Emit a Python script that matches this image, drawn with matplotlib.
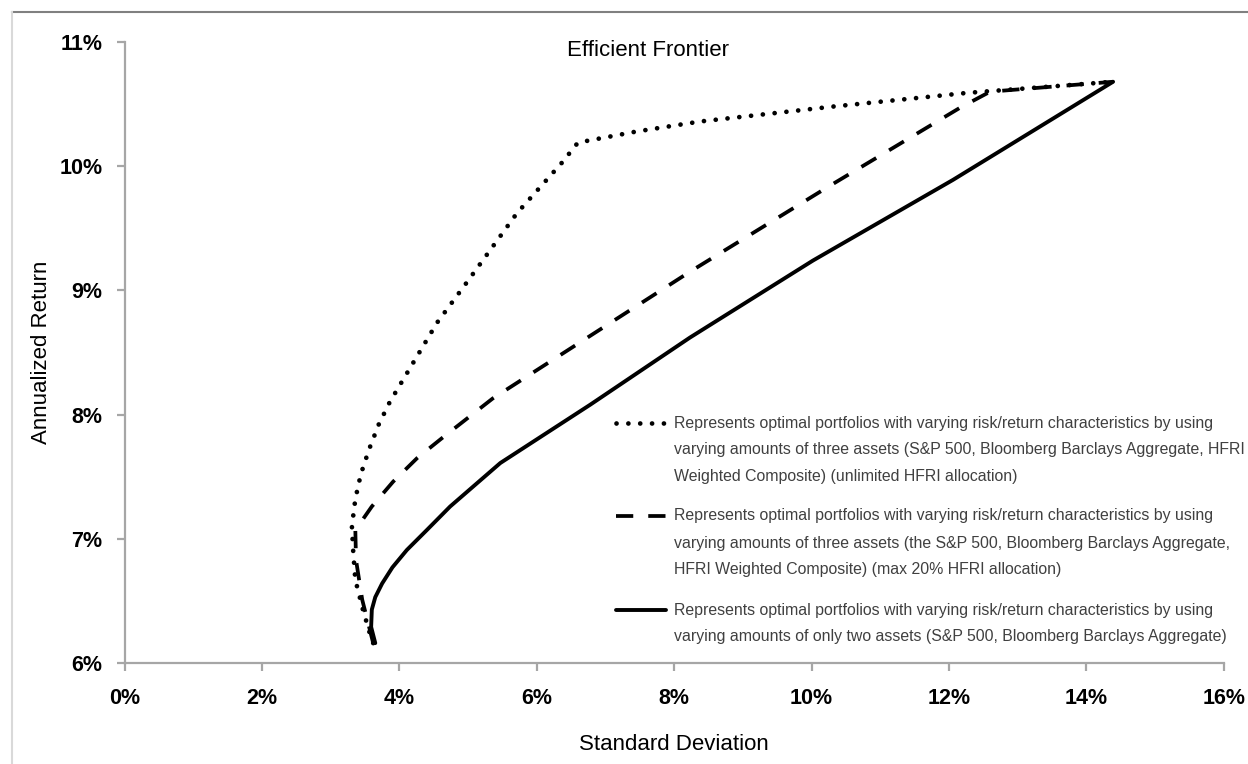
import matplotlib.pyplot as plt
from matplotlib.lines import Line2D
from matplotlib.ticker import FuncFormatter, MultipleLocator

# standard deviation (%) / annualized return (%)
unlimited_sd = [3.62, 3.57, 3.47, 3.36, 3.33, 3.31, 3.36, 3.44, 3.56, 3.70, 3.86,
                4.55, 4.99, 5.71, 6.37, 6.60, 7.46, 8.38, 10.31, 12.26, 14.39]
unlimited_ret = [6.16, 6.24, 6.43, 6.67, 6.89, 7.10, 7.32, 7.52, 7.72, 7.92, 8.10,
                 8.74, 9.07, 9.62, 10.03, 10.19, 10.28, 10.36, 10.48, 10.59, 10.68]

max20_sd = [3.62, 3.46, 3.37, 3.36, 3.60, 3.91, 4.26, 4.62, 4.99, 5.36,
            8.23, 10.23, 12.16, 12.60, 14.39]
max20_ret = [6.16, 6.51, 6.83, 7.07, 7.26, 7.46, 7.65, 7.81, 7.97, 8.13,
             9.15, 9.83, 10.47, 10.60, 10.68]

two_asset_sd = [3.65, 3.59, 3.60, 3.65, 3.75, 3.90, 4.11, 4.40, 4.74, 5.47,
                6.78, 8.23, 10.02, 12.06, 14.39]
two_asset_ret = [6.16, 6.29, 6.43, 6.53, 6.64, 6.77, 6.91, 7.07, 7.26, 7.61,
                 8.08, 8.62, 9.24, 9.89, 10.68]

legend_lines = [
    ["Represents optimal portfolios with varying risk/return characteristics by using",
     "varying amounts of three assets (S&P 500, Bloomberg Barclays Aggregate, HFRI",
     "Weighted Composite) (unlimited HFRI allocation)"],
    ["Represents optimal portfolios with varying risk/return characteristics by using",
     "varying amounts of three assets (the S&P 500, Bloomberg Barclays Aggregate,",
     "HFRI Weighted Composite) (max 20% HFRI allocation)"],
    ["Represents optimal portfolios with varying risk/return characteristics by using",
     "varying amounts of only two assets (S&P 500, Bloomberg Barclays Aggregate)"],
]

plt.rcParams['font.family'] = ['Liberation Sans Narrow', 'Liberation Sans', 'DejaVu Sans']

W, H = 1248, 764
fig = plt.figure(figsize=(W / 100, H / 100), dpi=100)
ax = fig.add_axes([124.5 / W, 1 - 663 / H, 1099.2 / W, 621 / H])

dotted = dict(color='black', lw=3.4, linestyle=(0, (0.01, 2.5)), dash_capstyle='round')
dashed = dict(color='black', lw=2.7, linestyle=(0, (4.6, 4.0)), dash_capstyle='butt')
solid = dict(color='black', lw=2.8, solid_capstyle='round')

ax.plot(unlimited_sd, unlimited_ret, **dotted)
ax.plot(max20_sd, max20_ret, **dashed)
ax.plot(two_asset_sd, two_asset_ret, **solid)

ax.set_xlim(0, 16)
ax.set_ylim(6, 11)
ax.xaxis.set_major_locator(MultipleLocator(2))
ax.yaxis.set_major_locator(MultipleLocator(1))
pct = FuncFormatter(lambda v, _: f"{v:.0f}%")
ax.xaxis.set_major_formatter(pct)
ax.yaxis.set_major_formatter(pct)

for s in ['top', 'right']:
    ax.spines[s].set_visible(False)
for s in ['left', 'bottom']:
    ax.spines[s].set_color('#a6a6a6')
    ax.spines[s].set_linewidth(1.6)
ax.tick_params(axis='both', color='#a6a6a6', width=1.6, length=6, direction='out',
               labelsize=15.5)
ax.tick_params(axis='x', pad=12)
ax.tick_params(axis='y', pad=10)
for lab in ax.get_xticklabels() + ax.get_yticklabels():
    lab.set_fontweight('bold')

ax.set_xlabel("Standard Deviation", fontsize=16)
ax.xaxis.set_label_coords(0.5, -0.114)
ax.set_ylabel("Annualized Return", fontsize=16)
ax.yaxis.set_label_coords(-0.066, 0.5)

fig.text(648 / W, 1 - 50 / H, "Efficient Frontier", ha='center', va='center', fontsize=16)

# legend drawn by hand so the key sits on the first line of each entry
row_y = [[0.386, 0.343, 0.301], [0.237, 0.192, 0.150], [0.085, 0.042]]
styles = [dotted, dashed, solid]
for lines, ys, st in zip(legend_lines, row_y, styles):
    ax.add_line(Line2D([0.447, 0.493], [ys[0], ys[0]], transform=ax.transAxes, **st))
    for txt, y in zip(lines, ys):
        ax.text(0.500, y, txt, transform=ax.transAxes, ha='left', va='center',
                fontsize=11.4, color='#404040')

# chart frame edges
fig.add_artist(Line2D([12 / W, 1], [1 - 11.7 / H] * 2, transform=fig.transFigure,
                      color='#808080', lw=1.5))
fig.add_artist(Line2D([12 / W, 12 / W], [0, 1 - 11.7 / H], transform=fig.transFigure,
                      color='#d9d9d9', lw=1.5))

fig.savefig('out.png', dpi=100)
